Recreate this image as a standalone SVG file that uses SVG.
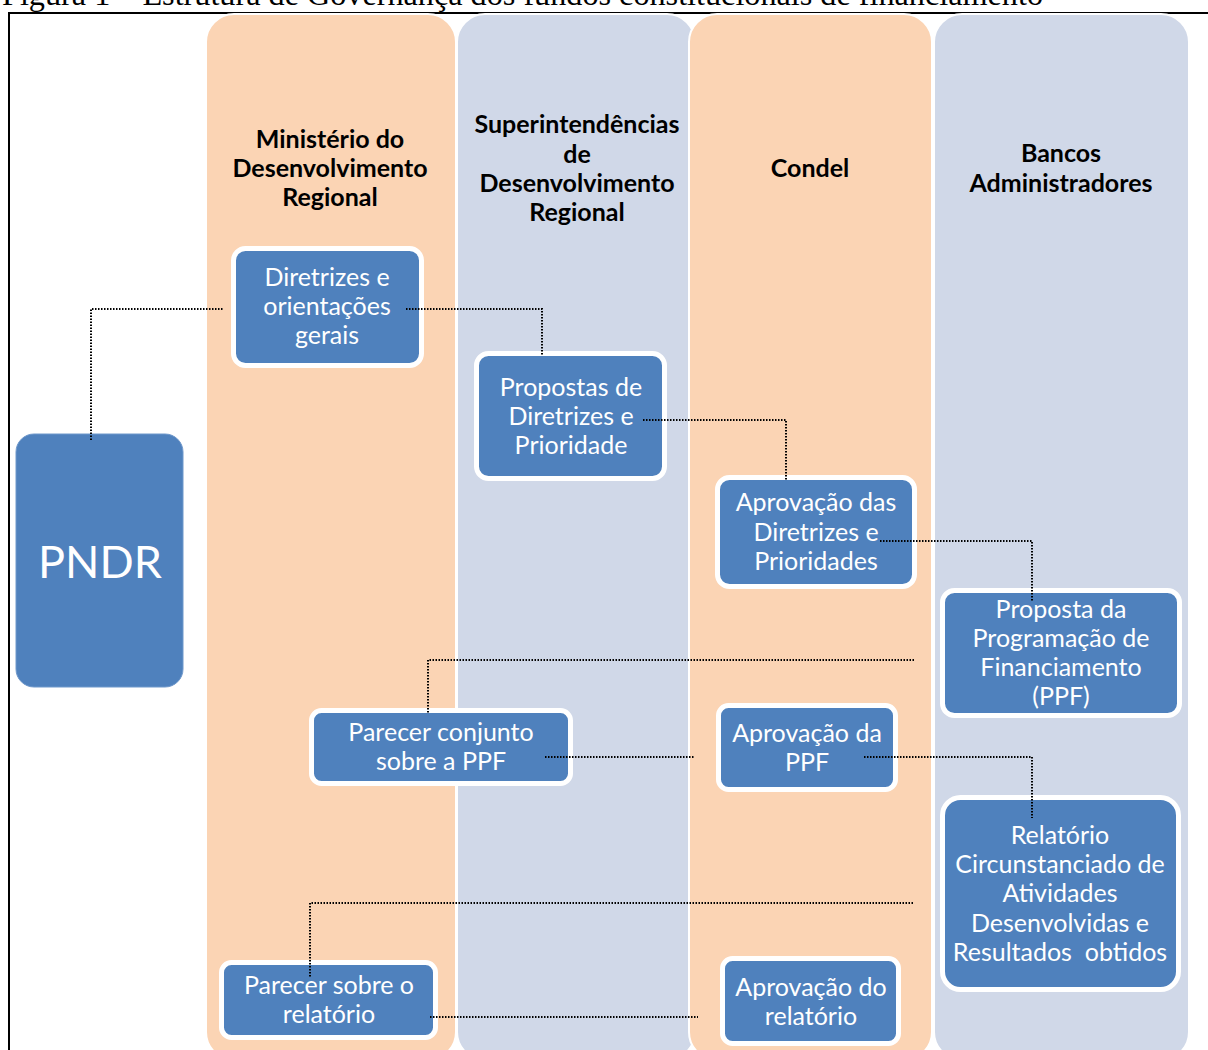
<svg xmlns="http://www.w3.org/2000/svg" width="1208" height="1050" viewBox="0 0 1208 1050">
<style>
.title{font-family:"Liberation Serif","Times New Roman",serif;font-size:32px;fill:#000}
.lane{stroke:#fff;stroke-width:2}
.peach{fill:#FBD4B4}
.grey{fill:#D0D8E8}
.hdr{font-family:Lato,"Open Sans",sans-serif;font-weight:bold;font-size:25px;fill:#000;text-anchor:middle}
.box{fill:#4F81BD;stroke:#fff;stroke-width:5}
.txt{font-family:Lato,"Open Sans",sans-serif;font-size:25px;fill:#fff;text-anchor:middle}
.conn{fill:none;stroke:#000;stroke-width:2;stroke-dasharray:1.5 1.5}
</style>
<text class="title" x="2" y="5" textLength="1041" lengthAdjust="spacingAndGlyphs">Figura 1 – Estrutura de Governança dos fundos constitucionais de financiamento</text>
<line x1="8" y1="13" x2="1208" y2="13" stroke="#000" stroke-width="2"/>
<line x1="9" y1="12" x2="9" y2="1050" stroke="#000" stroke-width="2"/>

<g id="lanes">
  <rect class="lane peach" x="206" y="14" width="250" height="1046" rx="28"/>
  <rect class="lane grey" x="457" y="14" width="238" height="1046" rx="28"/>
  <rect class="lane peach" x="689" y="14" width="243" height="1046" rx="28"/>
  <rect class="lane grey" x="934" y="14" width="255" height="1046" rx="28"/>
</g>
<g id="headers">
  <text class="hdr"><tspan x="330" y="148">Ministério do</tspan><tspan x="330" y="177">Desenvolvimento</tspan><tspan x="330" y="206">Regional</tspan></text>
  <text class="hdr"><tspan x="577" y="133">Superintendências</tspan><tspan x="577" y="163">de</tspan><tspan x="577" y="192">Desenvolvimento</tspan><tspan x="577" y="221">Regional</tspan></text>
  <text class="hdr" x="810" y="177">Condel</text>
  <text class="hdr"><tspan x="1061" y="162">Bancos</tspan><tspan x="1061" y="192">Administradores</tspan></text>
</g>

<g id="pndr">
  <rect x="16" y="434" width="167" height="253" rx="18" fill="#4F81BD" stroke="#6F98CB" stroke-width="1"/>
  <text x="100" y="578" font-family="Lato,'Open Sans',sans-serif" font-size="45" fill="#fff" text-anchor="middle">PNDR</text>
</g>
<g id="n1">
  <rect class="box" x="233.5" y="248.5" width="188" height="117" rx="12"/>
  <text class="txt"><tspan x="327" y="286">Diretrizes e</tspan><tspan x="327" y="315">orientações</tspan><tspan x="327" y="344">gerais</tspan></text>
</g>
<g id="n2">
  <rect class="box" x="476.5" y="353.5" width="188" height="125" rx="12"/>
  <text class="txt"><tspan x="571" y="396">Propostas de</tspan><tspan x="571" y="425">Diretrizes e</tspan><tspan x="571" y="454">Prioridade</tspan></text>
</g>
<g id="n3">
  <rect class="box" x="717.5" y="477.5" width="197" height="109" rx="12"/>
  <text class="txt"><tspan x="816" y="511">Aprovação das</tspan><tspan x="816" y="541">Diretrizes e</tspan><tspan x="816" y="570">Prioridades</tspan></text>
</g>
<g id="n4">
  <rect class="box" x="942.5" y="590.5" width="237" height="125" rx="12"/>
  <text class="txt"><tspan x="1061" y="618">Proposta da</tspan><tspan x="1061" y="647">Programação de</tspan><tspan x="1061" y="676">Financiamento</tspan><tspan x="1061" y="705">(PPF)</tspan></text>
</g>
<g id="n5">
  <rect class="box" x="311.5" y="710.5" width="259" height="73" rx="10"/>
  <text class="txt"><tspan x="441" y="741">Parecer conjunto</tspan><tspan x="441" y="770">sobre a PPF</tspan></text>
</g>
<g id="n6">
  <rect class="box" x="718.5" y="705.5" width="177" height="84" rx="10"/>
  <text class="txt"><tspan x="807" y="742">Aprovação da</tspan><tspan x="807" y="771">PPF</tspan></text>
</g>
<g id="n7">
  <rect class="box" x="942.5" y="797.5" width="236" height="192" rx="18"/>
  <text class="txt"><tspan x="1060" y="844">Relatório</tspan><tspan x="1060" y="873">Circunstanciado de</tspan><tspan x="1060" y="902">Atividades</tspan><tspan x="1060" y="932">Desenvolvidas e</tspan><tspan x="1060" y="961">Resultados&#160; obtidos</tspan></text>
</g>
<g id="n8">
  <rect class="box" x="221.5" y="962.5" width="214" height="75" rx="10"/>
  <text class="txt"><tspan x="329" y="994">Parecer sobre o</tspan><tspan x="329" y="1023">relatório</tspan></text>
</g>
<g id="n9">
  <rect class="box" x="722.5" y="958.5" width="176" height="85" rx="10"/>
  <text class="txt"><tspan x="811" y="996">Aprovação do</tspan><tspan x="811" y="1025">relatório</tspan></text>
</g>

<g id="connectors">
  <polyline class="conn" points="91,440 91,309 223,309"/>
  <polyline class="conn" points="406,309 542,309 542,356"/>
  <polyline class="conn" points="643,420 786,420 786,481"/>
  <polyline class="conn" points="880,541 1032,541 1032,602"/>
  <polyline class="conn" points="914,660 428,660 428,713"/>
  <polyline class="conn" points="545,757 694,757"/>
  <polyline class="conn" points="864,757 1032,757 1032,818"/>
  <polyline class="conn" points="913,903 310,903 310,978"/>
  <polyline class="conn" points="430,1017 698,1017"/>
</g>
</svg>
